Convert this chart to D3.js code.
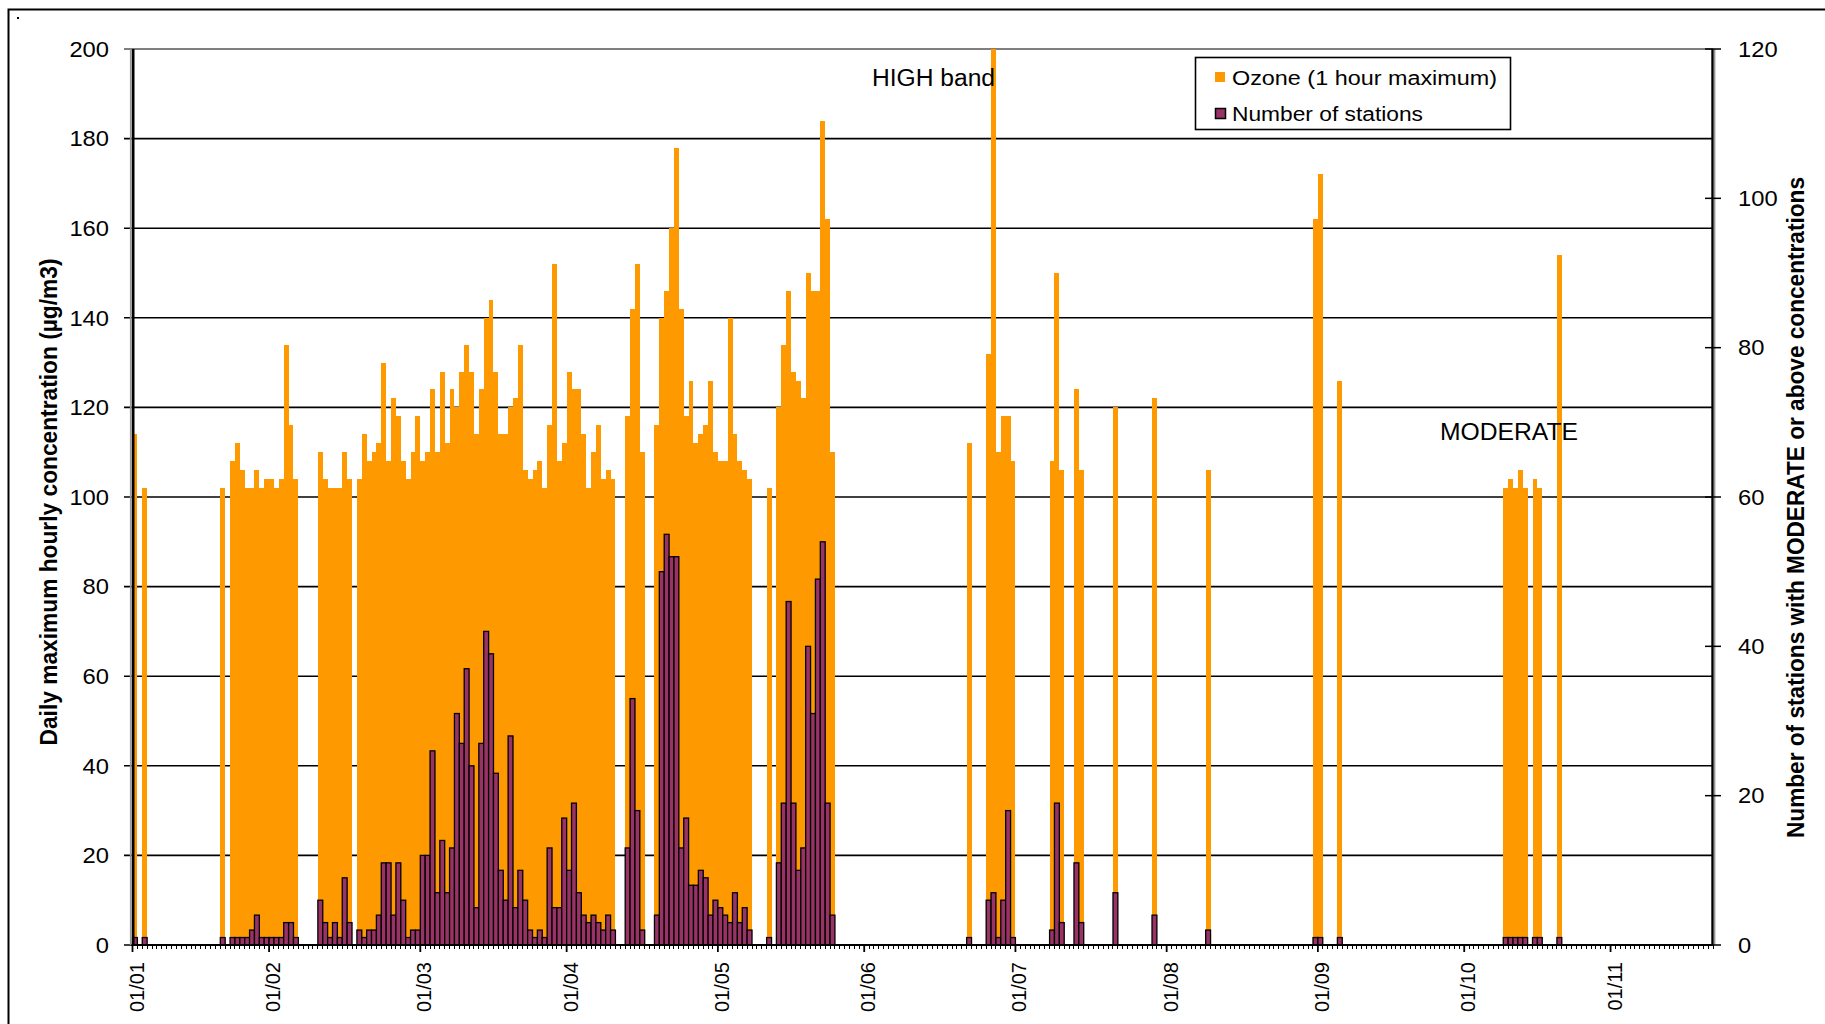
<!DOCTYPE html>
<html>
<head>
<meta charset="utf-8">
<script src="https://cdn.jsdelivr.net/npm/d3@7"></script>
<style>
  html, body { margin: 0; padding: 0; background: #fff; }
  svg { display: block; font-family: "Liberation Sans", Arial, sans-serif; }
</style>
</head>
<body>
<svg id="chart" width="1825" height="1024"></svg>
<script>
// Days (offset from 1 January) on which ozone reached the MODERATE band or above
const obsDays = [
  0, 2, 18, 20, 21, 22, 23, 24, 25, 26, 27, 28, 29, 30, 31, 32, 33,
  38, 39, 40, 41, 42, 43, 44,
  46, 47, 48, 49, 50, 51, 52, 53, 54, 55, 56, 57, 58, 59, 60, 61, 62, 63, 64, 65,
  66, 67, 68, 69, 70, 71, 72, 73, 74, 75, 76, 77, 78, 79, 80, 81, 82, 83, 84, 85,
  86, 87, 88, 89, 90, 91, 92, 93, 94, 95, 96, 97, 98,
  101, 102, 103, 104,
  107, 108, 109, 110, 111, 112, 113, 114, 115, 116, 117, 118, 119, 120, 121, 122,
  123, 124, 125, 126,
  130,
  132, 133, 134, 135, 136, 137, 138, 139, 140, 141, 142, 143,
  171, 175, 176, 177, 178, 179, 180, 188, 189, 190, 193, 194, 201, 209, 220,
  242, 243, 247, 281, 282, 283, 284, 285, 287, 288, 292
];

// Daily maximum hourly ozone concentration (µg/m3)
const ozone = [
  114, 102, 102, 108, 112, 106, 102, 102, 106, 102, 104, 104, 102, 104, 134, 116, 104,
  110, 104, 102, 102, 102, 110, 104,
  104, 114, 108, 110, 112, 130, 108, 122, 118, 108, 104, 110, 118, 108, 110, 124, 110, 128, 112, 124,
  120, 128, 134, 128, 114, 124, 140, 144, 128, 114, 114, 120, 122, 134, 106, 104, 106, 108, 102, 116,
  152, 108, 112, 128, 124, 124, 114, 102, 110, 116, 104, 106, 104,
  118, 142, 152, 110,
  116, 140, 146, 160, 178, 142, 118, 126, 112, 114, 116, 126, 110, 108, 108, 140,
  114, 108, 106, 104,
  102,
  120, 134, 146, 128, 126, 122, 150, 146, 146, 184, 162, 110,
  112, 132, 200, 110, 118, 118, 108, 108, 150, 106, 124, 106, 120, 122, 106,
  162, 172, 126, 102, 104, 102, 106, 102, 104, 102, 154
];

// Number of stations with MODERATE or above concentrations
const stations = [
  1, 1, 1, 1, 1, 1, 1, 2, 4, 1, 1, 1, 1, 1, 3, 3, 1,
  6, 3, 1, 3, 1, 9, 3,
  2, 1, 2, 2, 4, 11, 11, 4, 11, 6, 1, 2, 2, 12, 12, 26, 7, 14, 7, 13,
  31, 27, 37, 24, 5, 27, 42, 39, 23, 10, 6, 28, 5, 10, 6, 2, 1, 2, 1, 13,
  5, 5, 17, 10, 19, 7, 4, 3, 4, 3, 2, 4, 2,
  13, 33, 18, 2,
  4, 50, 55, 52, 52, 13, 17, 8, 8, 10, 9, 4, 6, 5, 4, 3,
  7, 3, 5, 2,
  1,
  11, 19, 46, 19, 10, 13, 40, 31, 49, 54, 19, 4,
  1, 6, 7, 1, 6, 18, 1, 2, 19, 3, 11, 3, 7, 4, 2,
  1, 1, 1, 1, 1, 1, 1, 1, 1, 1, 1
];

const dayCount = 324;                       // 1 January to late November
const monthTickDays = [0, 28, 59, 89, 120, 150, 181, 212, 243, 273, 303];
const monthLabels = ["01/01", "01/02", "01/03", "01/04", "01/05", "01/06",
                     "01/07", "01/08", "01/09", "01/10", "01/11"];
const ozoneTicks = [0, 20, 40, 60, 80, 100, 120, 140, 160, 180, 200];
const stationTicks = [0, 20, 40, 60, 80, 100, 120];

const ORANGE = "#FF9900";
const PLUM = "#993366";

const svg = d3.select("#chart");
const plot = { left: 132.5, right: 1713, top: 49, bottom: 945 };

const x = d3.scaleBand()
  .domain(d3.range(dayCount))
  .range([plot.left, plot.right])
  .paddingInner(0).paddingOuter(0);
const edge = i => plot.left + i * x.step();

const yOzone = d3.scaleLinear().domain([0, 200]).range([plot.bottom, plot.top]);
const yStations = d3.scaleLinear().domain([0, 120]).range([plot.bottom, plot.top]);

const rows = obsDays.map((d, k) => ({ day: d, oz: ozone[k], st: stations[k] }));

// outer frame and corner mark
svg.append("rect").attr("x", 8.5).attr("y", 9.5).attr("width", 1830).attr("height", 1030)
  .attr("fill", "none").attr("stroke", "#000").attr("stroke-width", 2);
svg.append("rect").attr("x", 17).attr("y", 17).attr("width", 2).attr("height", 2).attr("fill", "#000");

// horizontal gridlines with outside ticks on the left
svg.append("g").selectAll("line").data(ozoneTicks).join("line")
  .attr("x1", 124).attr("x2", plot.right)
  .attr("y1", d => yOzone(d)).attr("y2", d => yOzone(d))
  .attr("stroke", d => d === 200 ? "#555" : "#000")
  .attr("stroke-width", 1.6);

// ozone bars (primary axis)
svg.append("g").attr("shape-rendering", "crispEdges")
  .selectAll("rect").data(rows).join("rect")
  .attr("x", d => x(d.day)).attr("width", x.bandwidth())
  .attr("y", d => yOzone(d.oz)).attr("height", d => yOzone(0) - yOzone(d.oz))
  .attr("fill", ORANGE);

// station count bars (secondary axis)
svg.append("g").selectAll("rect").data(rows.filter(d => d.st > 0)).join("rect")
  .attr("x", d => x(d.day)).attr("width", x.bandwidth())
  .attr("y", d => yStations(d.st)).attr("height", d => yStations(0) - yStations(d.st))
  .attr("fill", PLUM).attr("stroke", "#000").attr("stroke-width", 1.3);

// left axis line
svg.append("line").attr("x1", 130.8).attr("x2", 130.8).attr("y1", plot.top).attr("y2", plot.bottom)
  .attr("stroke", "#999").attr("stroke-width", 1.8);
svg.append("line").attr("x1", 133.2).attr("x2", 133.2).attr("y1", plot.top).attr("y2", plot.bottom + 1)
  .attr("stroke", "#000").attr("stroke-width", 2.6);

// right axis line and crossing ticks
svg.append("line").attr("x1", plot.right - 0.5).attr("x2", plot.right - 0.5)
  .attr("y1", plot.top).attr("y2", plot.bottom + 1)
  .attr("stroke", "#000").attr("stroke-width", 2.4);
svg.append("line").attr("x1", plot.right + 1.7).attr("x2", plot.right + 1.7)
  .attr("y1", plot.top).attr("y2", plot.bottom)
  .attr("stroke", "#999").attr("stroke-width", 1.4);
svg.append("g").selectAll("line").data(stationTicks).join("line")
  .attr("x1", plot.right - 8).attr("x2", plot.right + 8)
  .attr("y1", d => yStations(d)).attr("y2", d => yStations(d))
  .attr("stroke", "#000").attr("stroke-width", 1.5);

// x axis line, daily minor ticks and monthly major ticks
svg.append("line").attr("x1", plot.left - 1).attr("x2", plot.right)
  .attr("y1", plot.bottom).attr("y2", plot.bottom)
  .attr("stroke", "#000").attr("stroke-width", 2.2);
svg.append("g").attr("shape-rendering", "crispEdges")
  .selectAll("line").data(d3.range(dayCount + 1)).join("line")
  .attr("x1", d => edge(d)).attr("x2", d => edge(d))
  .attr("y1", plot.bottom).attr("y2", plot.bottom + 4)
  .attr("stroke", "#000").attr("stroke-width", 1);
svg.append("g").selectAll("line").data(monthTickDays).join("line")
  .attr("x1", d => edge(d)).attr("x2", d => edge(d))
  .attr("y1", plot.bottom).attr("y2", plot.bottom + 7)
  .attr("stroke", "#000").attr("stroke-width", 1.8);

// month labels, rotated
svg.append("g").selectAll("text").data(monthTickDays).join("text")
  .attr("transform", d => `translate(${edge(d) + 11},962) rotate(-90)`)
  .attr("text-anchor", "end")
  .attr("font-size", 20)
  .attr("fill", "#000")
  .text((d, i) => monthLabels[i]);

// left tick labels
svg.append("g").selectAll("text").data(ozoneTicks).join("text")
  .attr("x", 109).attr("y", d => yOzone(d))
  .attr("dy", "0.36em")
  .attr("text-anchor", "end")
  .attr("font-size", 21.5)
  .attr("textLength", d => String(d).length * 13.2)
  .attr("lengthAdjust", "spacingAndGlyphs")
  .text(d => d);

// right tick labels
svg.append("g").selectAll("text").data(stationTicks).join("text")
  .attr("x", 1738).attr("y", d => yStations(d))
  .attr("dy", "0.36em")
  .attr("font-size", 21.5)
  .attr("textLength", d => String(d).length * 13.2)
  .attr("lengthAdjust", "spacingAndGlyphs")
  .text(d => d);

// axis titles
svg.append("text")
  .attr("transform", "translate(57,502) rotate(-90)")
  .attr("text-anchor", "middle")
  .attr("font-size", 23).attr("font-weight", "bold")
  .attr("textLength", 487).attr("lengthAdjust", "spacingAndGlyphs")
  .text("Daily maximum hourly concentration  (µg/m3)");

svg.append("text")
  .attr("transform", "translate(1804,507.5) rotate(-90)")
  .attr("text-anchor", "middle")
  .attr("font-size", 23).attr("font-weight", "bold")
  .attr("textLength", 661).attr("lengthAdjust", "spacingAndGlyphs")
  .text("Number of stations with MODERATE or above concentrations");

// band annotations
svg.append("text").attr("x", 872).attr("y", 86)
  .attr("font-size", 23)
  .attr("textLength", 123).attr("lengthAdjust", "spacingAndGlyphs")
  .text("HIGH band");
svg.append("text").attr("x", 1440).attr("y", 440)
  .attr("font-size", 23)
  .attr("textLength", 138).attr("lengthAdjust", "spacingAndGlyphs")
  .text("MODERATE");

// legend
const legend = svg.append("g");
legend.append("rect").attr("x", 1195.5).attr("y", 57.5).attr("width", 315).attr("height", 72)
  .attr("fill", "#fff").attr("stroke", "#000").attr("stroke-width", 1.6);
legend.append("rect").attr("x", 1215).attr("y", 72).attr("width", 10).attr("height", 10)
  .attr("fill", ORANGE);
legend.append("rect").attr("x", 1215.5).attr("y", 108.5).attr("width", 10).attr("height", 10)
  .attr("fill", PLUM).attr("stroke", "#000").attr("stroke-width", 1.5);
legend.append("text").attr("x", 1232).attr("y", 84.5)
  .attr("font-size", 20)
  .attr("textLength", 265).attr("lengthAdjust", "spacingAndGlyphs")
  .text("Ozone (1 hour maximum)");
legend.append("text").attr("x", 1232).attr("y", 121)
  .attr("font-size", 20)
  .attr("textLength", 191).attr("lengthAdjust", "spacingAndGlyphs")
  .text("Number of stations");
</script>
</body>
</html>
